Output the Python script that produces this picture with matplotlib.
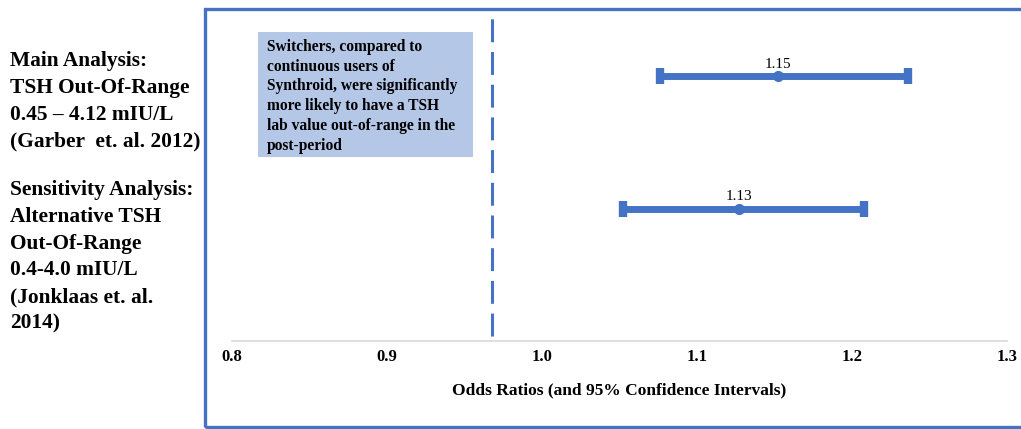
import matplotlib
matplotlib.use("Agg")
import matplotlib.pyplot as plt
from matplotlib.patches import Rectangle

# data
analyses = ["Main Analysis:\nTSH Out-Of-Range\n0.45 \u2013 4.12 mIU/L\n(Garber  et. al. 2012)",
            "Sensitivity Analysis:\nAlternative TSH\nOut-Of-Range\n0.4-4.0 mIU/L\n(Jonklaas et. al.\n2014)"]
odds_ratio = [1.152, 1.127]
ci_low = [1.076, 1.052]
ci_high = [1.236, 1.208]
or_labels = ["1.15", "1.13"]
ref_line = 0.968
xticks = [0.8, 0.9, 1.0, 1.1, 1.2, 1.3]
note = ("Switchers, compared to\ncontinuous users of\nSynthroid, were significantly\n"
        "more likely to have a TSH\nlab value out-of-range in the\npost-period")

blue = "#4472C4"
W, H = 1021, 429

plt.rcParams["font.family"] = ["Liberation Serif", "DejaVu Serif"]

fig = plt.figure(figsize=(W / 100, H / 100), dpi=100)
ax = fig.add_axes([232 / W, 1 - 341 / H, (1007 - 232) / W, (341 - 10) / H])

# outer blue frame (runs off the right edge)
fig.patches.append(Rectangle((204.5 / W, 2 / H), 0.9, 1 - 10.5 / H, transform=fig.transFigure,
                             fill=False, edgecolor=blue, lw=2.4, zorder=0))

ypos = [2, 1]
for y, m, lo, hi, lab in zip(ypos, odds_ratio, ci_low, ci_high, or_labels):
    ax.errorbar(m, y, xerr=[[m - lo], [hi - m]], fmt="o", color=blue, ms=7,
                elinewidth=5, capsize=5.5, capthick=6)
    ax.text(m, y + 0.04, lab, ha="center", va="bottom", fontsize=11)

dl = ax.axvline(ref_line, ymin=0.015, ymax=0.985, color=blue, lw=2.2)
dl.set_dashes((7.5, 3.2))

ax.set_xlim(0.8, 1.3)
ax.set_ylim(0, 2.5)
ax.set_yticks([])
ax.set_xticks(xticks)
ax.set_xticklabels([f"{t:.1f}" for t in xticks], fontweight="bold", fontsize=12)
ax.tick_params(axis="x", length=0, pad=6)
for s in ["top", "right", "left"]:
    ax.spines[s].set_visible(False)
ax.spines["bottom"].set_color("#D9D9D9")
ax.spines["bottom"].set_linewidth(1.2)
ax.set_xlabel("Odds Ratios (and 95% Confidence Intervals)", fontweight="bold",
              fontsize=12.5, labelpad=12)

# note box
fig.patches.append(Rectangle((258 / W, 1 - 157 / H), 215 / W, 125 / H,
                             transform=fig.transFigure, facecolor="#B4C7E7",
                             edgecolor="none", zorder=1))
fig.text(267 / W, 1 - 39 / H, note, ha="left", va="top", fontsize=11.2,
         fontweight="bold", linespacing=1.31, zorder=2)

# row labels
fig.text(10 / W, 1 - 51 / H, analyses[0], ha="left", va="top", fontsize=15.4,
         fontweight="bold", linespacing=1.45)
fig.text(10 / W, 1 - 180 / H, analyses[1], ha="left", va="top", fontsize=15.4,
         fontweight="bold", linespacing=1.45)

fig.savefig("out.png", dpi=100)
